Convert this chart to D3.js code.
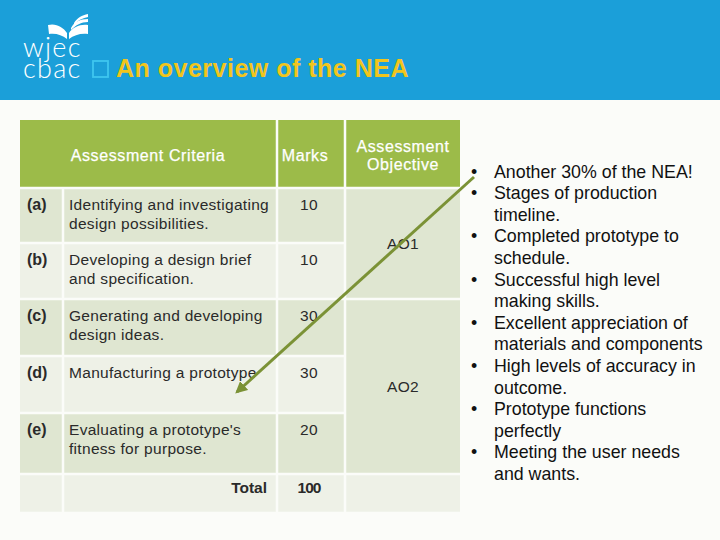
<!DOCTYPE html>
<html><head><meta charset="utf-8">
<script src="https://cdn.jsdelivr.net/npm/d3@7"></script>
<style>
html,body{margin:0;padding:0;background:#fbfcf9;}
svg{display:block;}
</style></head>
<body>
<script>
// ---- data ----
const logoLines = ["wjec", "cbac"];
const title = "An overview of the NEA";
const headers = ["Assessment Criteria", "Marks", ["Assessment", "Objective"]];
const letters = ["(a)", "(b)", "(c)", "(d)", "(e)"];
const criteria = [
  ["Identifying and investigating", "design possibilities."],
  ["Developing a design brief", "and specification."],
  ["Generating and developing", "design ideas."],
  ["Manufacturing a prototype"],
  ["Evaluating a prototype's", "fitness for purpose."]
];
const marks = [10, 10, 30, 30, 20];
const totalLabel = "Total";
const totalMarks = 100;
const objectives = ["AO1", "AO2"];
const objectiveRows = [[0, 1], [2, 4]];
const bullets = [
  ["Another 30% of the NEA!"],
  ["Stages of production", "timeline."],
  ["Completed prototype to", "schedule."],
  ["Successful high level", "making skills."],
  ["Excellent appreciation of", "materials and components"],
  ["High levels of accuracy in", "outcome."],
  ["Prototype functions", "perfectly"],
  ["Meeting the user needs", "and wants."]
];

// ---- layout ----
const W = 720, H = 540;
const svg = d3.select("body").append("svg").attr("width", W).attr("height", H);
const font = "'Liberation Sans', Arial, sans-serif";

// header band
svg.append("rect").attr("x", 0).attr("y", 0).attr("width", W).attr("height", 100).attr("fill", "#1b9fd9");

// logo: book
const logo = svg.append("g").attr("fill", "#ffffff");
logo.append("path").attr("d", "M48,25 C56,23 63,27 67,33 L67,39 C62,35 56,33 49,34 Z");
logo.append("path").attr("d", "M69,33 C73,27 80,24 88,25 L88,34 C81,33 74,35 69,39 Z");
logo.append("path").attr("d", "M71,28 C74,22 80,19 88,19 L88,22 C81,22 76,25 71,30 Z");
logo.append("path").attr("d", "M74,23 C77,18 82,15 88,14 L88,17 C83,18 78,20 74,25 Z");
const lt = logo.append("text").attr("font-family", "Lato, 'Open Sans', sans-serif")
  .attr("font-size", 27).attr("font-weight", 300).attr("letter-spacing", 1.3);
logoLines.forEach((t, i) => lt.append("tspan").attr("x", 23).attr("y", 57 + i * 20.5).text(t));

// title
svg.append("rect").attr("x", 93).attr("y", 61).attr("width", 15).attr("height", 16)
  .attr("fill", "none").attr("stroke", "#3fc6ef").attr("stroke-width", 1.8);
svg.append("text").attr("x", 116).attr("y", 77).attr("font-family", font).attr("font-weight", "bold")
  .attr("font-size", 25).attr("letter-spacing", 0.5).attr("fill", "#f2c51c").text(title);

// table geometry
const colEdges = [20, 63, 277, 345, 460];
const rowEdges = [120, 188, 243, 299, 356, 413, 474, 513];
const gap = 2.5;
const dark = "#dfe6d1", light = "#eef1e7", headFill = "#9cbb49";

const rowIdx = d3.range(letters.length + 1);
const yTop = d3.scaleOrdinal().domain(d3.range(-1, rowIdx.length)).range(rowEdges.slice(0, -1));
const yBot = d3.scaleOrdinal().domain(d3.range(-1, rowIdx.length)).range(rowEdges.slice(1));
const xL = d3.scaleOrdinal().domain([0, 1, 2, 3]).range(colEdges.slice(0, -1));
const xR = d3.scaleOrdinal().domain([0, 1, 2, 3]).range(colEdges.slice(1));

const table = svg.append("g");
function cell(c0, c1, r0, r1, fill) {
  table.append("rect")
    .attr("x", xL(c0) + (c0 === 0 ? 0 : gap / 2))
    .attr("y", yTop(r0) + (r0 === -1 ? 0 : gap / 2))
    .attr("width", xR(c1) - xL(c0) - (c0 === 0 ? gap / 2 : gap) + (c1 === 3 ? gap / 2 : 0))
    .attr("height", yBot(r1) - yTop(r0) - (r0 === -1 ? gap / 2 : gap))
    .attr("fill", fill);
}
// header
cell(0, 1, -1, -1, headFill);
cell(2, 2, -1, -1, headFill);
cell(3, 3, -1, -1, headFill);
// body rows
rowIdx.forEach(i => {
  const f = i % 2 === 0 && i < letters.length ? dark : light;
  cell(0, 0, i, i, f);
  cell(1, 1, i, i, f);
  cell(2, 2, i, i, f);
});
objectiveRows.forEach(r => cell(3, 3, r[0], r[1], dark));
cell(3, 3, letters.length, letters.length, light);

// header text
const hdr = svg.append("g").attr("font-family", font).attr("font-size", 16)
  .attr("letter-spacing", 0.6).attr("fill", "#ffffff").attr("text-anchor", "middle")
  .attr("stroke", "#ffffff").attr("stroke-width", 0.25);
hdr.append("text").attr("x", 148).attr("y", 161).text(headers[0]);
hdr.append("text").attr("x", 305).attr("y", 161).text(headers[1]);
hdr.append("text").attr("x", 403).attr("y", 152).text(headers[2][0]);
hdr.append("text").attr("x", 403).attr("y", 170).text(headers[2][1]);

// body text
const body = svg.append("g").attr("font-family", font).attr("font-size", 15.5).attr("letter-spacing", 0.3).attr("fill", "#2a2a2a");
letters.forEach((l, i) => {
  const y0 = yTop(i) + 22;
  body.append("text").attr("x", 27).attr("y", y0).attr("font-weight", "bold").attr("font-size", 16).attr("letter-spacing", 0).text(l);
  criteria[i].forEach((t, j) => body.append("text").attr("x", 69).attr("y", y0 + j * 19).text(t));
  body.append("text").attr("x", 309).attr("y", y0).attr("text-anchor", "middle").text(marks[i]);
});
const yT = yTop(letters.length) + 19;
body.append("text").attr("x", 267).attr("y", yT).attr("text-anchor", "end").attr("font-weight", "bold").attr("letter-spacing", 0).text(totalLabel);
body.append("text").attr("x", 309).attr("y", yT).attr("text-anchor", "middle").attr("font-weight", "bold").attr("letter-spacing", -1).text(totalMarks);
objectives.forEach((o, k) => {
  const r = objectiveRows[k];
  const yc = (yTop(r[0]) + yBot(r[1])) / 2;
  body.append("text").attr("x", 403).attr("y", yc + 5).attr("text-anchor", "middle").text(o);
});

// arrow
svg.append("defs").append("marker").attr("id", "ah").attr("viewBox", "0 0 10 10")
  .attr("refX", 8).attr("refY", 5).attr("markerWidth", 4).attr("markerHeight", 4).attr("orient", "auto")
  .append("path").attr("d", "M0,0 L10,5 L0,10 Z").attr("fill", "#7b9236");
svg.append("line").attr("x1", 474).attr("y1", 177).attr("x2", 237).attr("y2", 392)
  .attr("stroke", "#7b9236").attr("stroke-width", 3).attr("marker-end", "url(#ah)");

// bullets
const bl = svg.append("g").attr("font-family", font).attr("font-size", 17.8).attr("fill", "#111");
let line = 0;
const lh = 21.6, by0 = 177.5;
bullets.forEach(b => {
  bl.append("text").attr("x", 471).attr("y", by0 + line * lh).text("•");
  b.forEach(t => { bl.append("text").attr("x", 494).attr("y", by0 + line * lh).text(t); line++; });
});
</script>
</body></html>
